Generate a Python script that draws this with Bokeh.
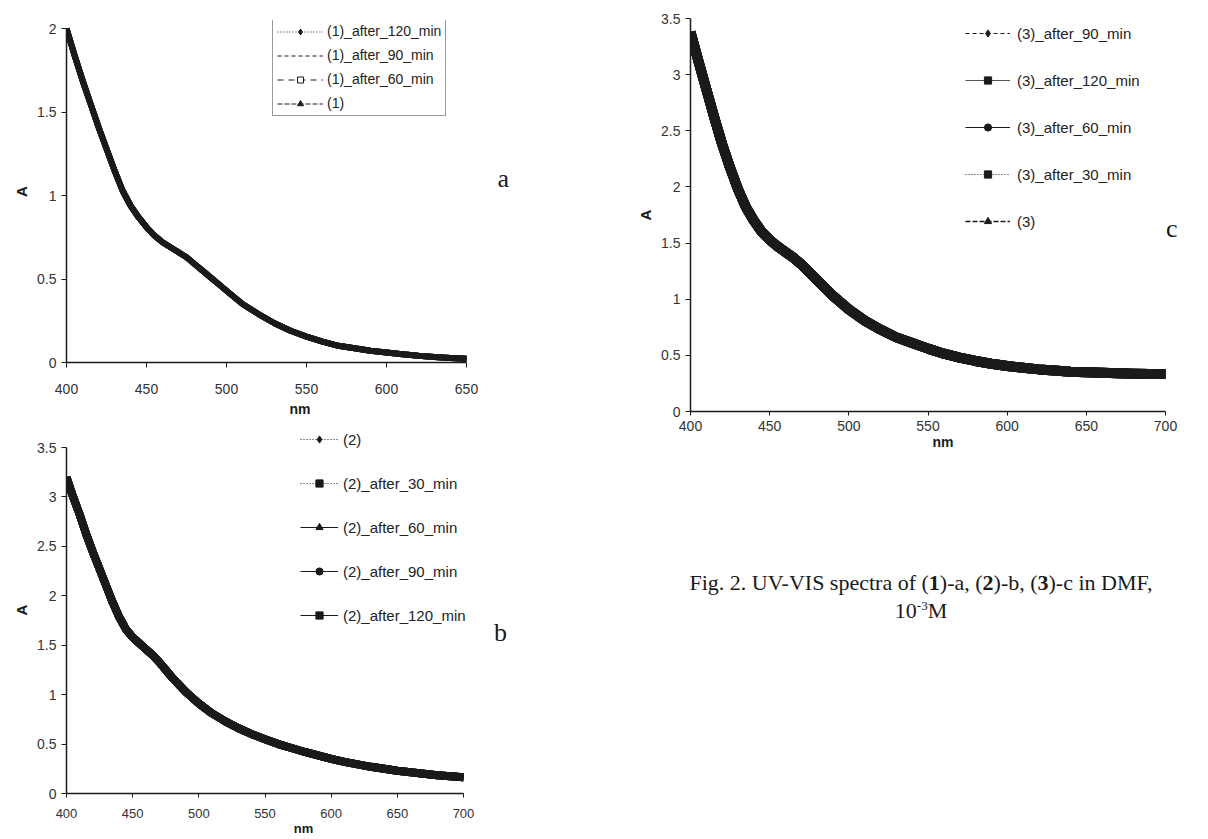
from bokeh.plotting import figure
from bokeh.models import Range1d, Legend, LegendItem, Label, Div, FixedTicker, CustomJSTickFormatter
from bokeh.layouts import row, column
from bokeh.embed import file_html
from bokeh.resources import INLINE

# ---------------- data ----------------
nm_a = [400, 405, 410, 415, 420, 425, 430, 435, 440, 445, 450, 455, 460, 465, 470, 475,
        480, 485, 490, 495, 500, 510, 520, 530, 540, 550, 560, 570, 580, 590, 600, 610,
        620, 630, 640, 650]
A_1 = [2.00, 1.84, 1.69, 1.55, 1.41, 1.28, 1.15, 1.03, 0.94, 0.87, 0.81, 0.76, 0.72, 0.69,
       0.66, 0.63, 0.59, 0.55, 0.51, 0.47, 0.43, 0.35, 0.29, 0.235, 0.19, 0.155, 0.125,
       0.10, 0.085, 0.07, 0.06, 0.05, 0.04, 0.033, 0.027, 0.022]
# the later spectra coincide with (1) within the drawn line width
A_1_after_60 = A_1
A_1_after_90 = A_1
A_1_after_120 = A_1

nm_b = [400, 405, 410, 415, 420, 425, 430, 435, 440, 445, 450, 455, 460, 465, 470, 475,
        480, 485, 490, 495, 500, 510, 520, 530, 540, 550, 560, 570, 580, 590, 600, 610,
        620, 630, 640, 650, 660, 670, 680, 690, 700]
A_2 = [3.20, 3.00, 2.82, 2.62, 2.44, 2.27, 2.10, 1.93, 1.78, 1.66, 1.58, 1.52, 1.46, 1.40,
       1.33, 1.25, 1.17, 1.10, 1.03, 0.97, 0.91, 0.81, 0.73, 0.66, 0.60, 0.55, 0.50, 0.46,
       0.42, 0.385, 0.35, 0.32, 0.295, 0.27, 0.25, 0.23, 0.215, 0.20, 0.185, 0.175, 0.165]
A_2_after_30 = A_2
A_2_after_60 = A_2
A_2_after_90 = A_2
A_2_after_120 = A_2

nm_c = nm_b
A_3 = [3.38, 3.12, 2.87, 2.62, 2.38, 2.17, 1.98, 1.82, 1.70, 1.60, 1.53, 1.47, 1.42, 1.37,
       1.31, 1.24, 1.17, 1.10, 1.03, 0.97, 0.91, 0.81, 0.73, 0.66, 0.61, 0.56, 0.515, 0.48,
       0.45, 0.425, 0.405, 0.39, 0.375, 0.365, 0.355, 0.35, 0.345, 0.34, 0.337, 0.335, 0.333]
A_3_after_30 = A_3
A_3_after_60 = A_3
A_3_after_90 = A_3
A_3_after_120 = A_3

xticks_a = [400, 450, 500, 550, 600, 650]
xticks_bc = [400, 450, 500, 550, 600, 650, 700]
yticks_a = [0, 0.5, 1, 1.5, 2]
yticks_bc = [0, 0.5, 1, 1.5, 2, 2.5, 3, 3.5]

labels_a = ["(1)_after_120_min", "(1)_after_90_min", "(1)_after_60_min", "(1)"]
labels_b = ["(2)", "(2)_after_30_min", "(2)_after_60_min", "(2)_after_90_min", "(2)_after_120_min"]
labels_c = ["(3)_after_90_min", "(3)_after_120_min", "(3)_after_60_min", "(3)_after_30_min", "(3)"]

SANS = "Liberation Sans"
SERIF = "Liberation Serif"
INK = "#1a1a1a"
NAN = float("nan")


def make_fig(axis_x, axis_y, fw, fh, pad_x, pad_y, bl, br, bt, bb, xt, yt, xstand, xlab_stand, xfs):
    # axis_x / axis_y: the drawn axis extents; the frame is a bit larger (pad in px)
    # so that legends and panel letters that sit beyond the axes stay visible
    ax_w = fw - pad_x
    ax_h = fh - pad_y
    x_end = axis_x[1] + pad_x * (axis_x[1] - axis_x[0]) / ax_w
    y_end = axis_y[1] + pad_y * (axis_y[1] - axis_y[0]) / ax_h
    p = figure(frame_width=fw, frame_height=fh,
               x_range=Range1d(axis_x[0], x_end), y_range=Range1d(axis_y[0], y_end),
               output_backend="svg", toolbar_location=None,
               min_border_left=bl, min_border_right=br, min_border_top=bt, min_border_bottom=bb)
    p.outline_line_color = None
    p.grid.visible = False
    p.background_fill_color = "white"
    p.border_fill_color = "white"
    fmt = CustomJSTickFormatter(code="return tick.toString()")
    for ax in (p.xaxis[0], p.yaxis[0]):
        ax.axis_line_color = INK
        ax.axis_line_width = 1.5
        ax.major_tick_line_color = INK
        ax.major_tick_out = 5
        ax.major_tick_in = 0
        ax.minor_tick_line_color = None
        ax.major_label_text_font = SANS
        ax.major_label_text_font_size = "14px"
        ax.major_label_text_color = "#333333"
        ax.axis_label_text_font = SANS
        ax.axis_label_text_font_style = "bold"
        ax.axis_label_text_color = INK
        ax.formatter = fmt
    p.xaxis.bounds = axis_x
    p.yaxis.bounds = axis_y
    p.xaxis.ticker = FixedTicker(ticks=xt)
    p.yaxis.ticker = FixedTicker(ticks=yt)
    p.xaxis.axis_label = "nm"
    p.yaxis.axis_label = "A"
    p.xaxis.axis_label_text_font_size = xfs
    p.xaxis.major_label_text_font_size = xfs
    p.yaxis.axis_label_text_font_size = "15px"
    p.xaxis.major_label_standoff = xstand
    p.xaxis.axis_label_standoff = xlab_stand
    p.yaxis.major_label_standoff = 5
    p.yaxis.axis_label_standoff = 4
    return p


def add_legend(p, labels, styles, loc, glyph_w, gh, spacing, standoff, font_size, padding, border):
    items = []
    for lab, st in zip(labels, styles):
        rs = []
        rl = p.line(x=[NAN], y=[NAN], line_color=st.get("lc", INK), line_width=st.get("lw", 1),
                    line_dash=st.get("dash", "solid"))
        rs.append(rl)
        if st.get("marker"):
            rm = p.scatter(x=[NAN], y=[NAN], marker=st["marker"], size=6,
                           fill_color=st.get("fill", INK), line_color=INK, line_width=1)
            rs.append(rm)
        items.append(LegendItem(label=lab, renderers=rs))
    lg = Legend(items=items, location=loc, glyph_width=glyph_w, glyph_height=gh,
                label_height=gh, spacing=spacing, label_standoff=standoff,
                label_text_font=SANS, label_text_font_size=font_size, label_text_color="#222222",
                padding=padding, margin=0)
    if border:
        lg.border_line_color = "#333333"
        lg.border_line_width = 1
        lg.background_fill_color = "white"
    else:
        lg.border_line_color = None
        lg.background_fill_alpha = 0
    p.add_layout(lg)


# ---------------- panel a ----------------
pa = make_fig((400, 650), (0, 2), 467, 342, 67, 8, 63, 30, 20, 60,
              xticks_a, yticks_a, 16, 4, "14px")
for ys in (A_1, A_1_after_60, A_1_after_90, A_1_after_120):
    pa.line(nm_a, ys, line_color=INK, line_width=6, line_join="round")
add_legend(pa, labels_a,
           [dict(dash="1 2", marker="diamond"), dict(dash="4 3"),
            dict(dash="6 5", marker="square", fill="white"), dict(dash="5 2", marker="triangle")],
           (206, 246), 46, 15, 8, 4, "14px", 4, True)
pa.add_layout(Label(x=673, y=1.10, text="a", text_font=SERIF, text_font_size="26px",
                    text_align="center", text_baseline="middle", text_color=INK))

# ---------------- panel b ----------------
pb = make_fig((400, 700), (0, 3.5), 474, 367, 77, 21, 66, 20, 4, 46,
              xticks_bc, yticks_bc, 11, 0, "13px")
pb.xaxis.major_tick_out = 4
for ys in (A_2, A_2_after_30, A_2_after_60, A_2_after_90, A_2_after_120):
    pb.line(nm_b, ys, line_color=INK, line_width=8, line_join="round")
add_legend(pb, labels_b,
           [dict(dash="1 2", marker="diamond"), dict(dash="1 2", marker="square"),
            dict(marker="triangle"), dict(marker="circle"), dict(marker="square")],
           (234, 169), 38, 18, 26, 5, "15px", 0, False)
pb.add_layout(Label(x=728, y=1.63, text="b", text_font=SERIF, text_font_size="26px",
                    text_align="center", text_baseline="middle", text_color=INK))

# ---------------- panel c ----------------
pc = make_fig((400, 700), (0, 3.5), 505, 393, 30, 0, 130, 13, 18, 41,
              xticks_bc, yticks_bc, 5, 0, "14px")
pc.xaxis.major_tick_out = 4
for ys in (A_3, A_3_after_30, A_3_after_60, A_3_after_90, A_3_after_120):
    pc.line(nm_c, ys, line_color=INK, line_width=10, line_join="round")
add_legend(pc, labels_c,
           [dict(dash="4 3", marker="diamond"), dict(lc="#555555", marker="square"),
            dict(marker="circle"), dict(dash="1 2", marker="square"),
            dict(dash="5 2", lw=1.5, marker="triangle")],
           (275, 181), 45, 18, 29, 7, "15px", 0, False)
pc.add_layout(Label(x=704, y=1.63, text="c", text_font=SERIF, text_font_size="26px",
                    text_align="center", text_baseline="middle", text_color=INK))

caption = Div(
    text=('<div style="box-sizing:border-box;font-family:\'Liberation Serif\',serif;font-size:22px;'
          'color:#1a1a1a;text-align:center;line-height:28px;padding-top:112px;padding-left:116px;'
          'width:596px;white-space:nowrap;">'
          'Fig. 2. UV-VIS spectra of (<b>1</b>)-a, (<b>2</b>)-b, (<b>3</b>)-c in DMF,<br>'
          '10<sup style="font-size:13px;line-height:0">-3</sup>M</div>'),
    width=648, height=387)

layout = row(column(pa, pb), column(pc, caption))

open("out.html", "w").write(file_html(layout, INLINE))
